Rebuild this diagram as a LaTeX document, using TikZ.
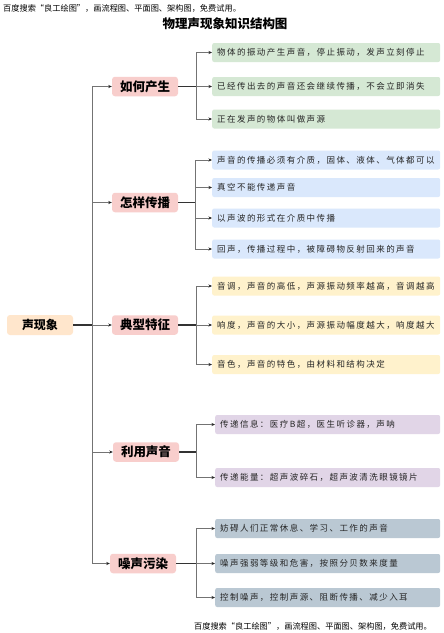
\documentclass[tikz,border=0pt]{standalone}
\usepackage{fontspec}
\newfontfamily\cjk{Noto Sans CJK SC}
\newfontfamily\cjkleaf{Noto Sans CJK SC}[LetterSpace=17]
\usetikzlibrary{arrows.meta}
\definecolor{rootc}{HTML}{FFE6CC}
\definecolor{midc}{HTML}{F8CECC}
\definecolor{greenc}{HTML}{D5E8D4}
\definecolor{bluec}{HTML}{DAE8FC}
\definecolor{yellowc}{HTML}{FFF2CC}
\definecolor{purplec}{HTML}{E1D5E7}
\definecolor{grayc}{HTML}{BAC8D3}
\tikzset{
  rootbox/.style={fill=rootc, rounded corners=3pt, minimum width=66pt, minimum height=20pt, inner sep=0pt, font=\cjk\bfseries\fontsize{12}{14}\selectfont},
  midbox/.style={fill=midc, rounded corners=3pt, minimum width=66pt, minimum height=19.5pt, inner sep=0pt, font=\cjk\bfseries\fontsize{12.5}{14}\selectfont},
  leaf/.style={fill=#1, rounded corners=2pt, anchor=west, text width=218pt, inner xsep=5pt, inner ysep=0pt, minimum height=19pt, align=left, font=\cjkleaf\fontsize{8.5}{10}\selectfont, text=black!85},
  wmark/.style={font=\cjk\fontsize{8.2}{10}\selectfont},
  stem/.style={draw=black!80, line width=1.1pt},
  branch/.style={draw=black!55, line width=0.6pt, -{Stealth[length=3.5pt,width=3pt,color=black!85]}},
}
\begin{document}
\begin{tikzpicture}[x=1pt,y=-1pt]
\useasboundingbox (0,0) rectangle (444,633);
\fill[white] (0,0) rectangle (444,633);

\node[wmark, anchor=west, inner sep=0pt] (wm1) at (3,8) {百度搜索“良工绘图”，画流程图、平面图、架构图，免费试用。};
\node[font=\cjk\bfseries\fontsize{12.5}{14}\selectfont] (title) at (225,24) {物理声现象知识结构图};
\node[wmark] (wm2) at (313,626) {百度搜索“良工绘图”，画流程图、平面图、架构图，免费试用。};

\node[rootbox] (root) at (40,325) {声现象};

\node[midbox] (c1) at (145,86.5) {如何产生};
\node[midbox] (c2) at (145,202.5) {怎样传播};
\node[midbox] (c3) at (145,325) {典型特征};
\node[midbox] (c4) at (146,452) {利用声音};
\node[midbox] (c5) at (143,563.5) {噪声污染};

\coordinate (trunk) at (92,325);
\draw[stem] (root.east) -- (trunk);
\draw[branch] (trunk) |- (c1.west);
\draw[branch] (trunk) |- (c2.west);
\draw[branch] (trunk) -- (c3.west);
\draw[branch] (trunk) |- (c4.west);
\draw[branch] (trunk) |- (c5.west);

% 如何产生
\node[leaf=greenc] (l11) at (212,52.5) {物体的振动产生声音，停止振动，发声立刻停止};
\node[leaf=greenc] (l12) at (212,86.5) {已经传出去的声音还会继续传播，不会立即消失};
\node[leaf=greenc] (l13) at (212,119) {正在发声的物体叫做声源};
\coordinate (b1) at (196,86.5);
\draw[stem] (c1.east) -- (b1);
\draw[branch] (b1) |- (l11.west);
\draw[branch] (b1) -- (l12.west);
\draw[branch] (b1) |- (l13.west);

% 怎样传播
\node[leaf=bluec] (l21) at (212,160) {声音的传播必须有介质，固体、液体、气体都可以};
\node[leaf=bluec] (l22) at (212,187.5) {真空不能传递声音};
\node[leaf=bluec] (l23) at (212,218) {以声波的形式在介质中传播};
\node[leaf=bluec] (l24) at (212,249) {回声，传播过程中，被障碍物反射回来的声音};
\coordinate (b2) at (195,202.5);
\draw[stem] (c2.east) -- (b2);
\draw[branch] (b2) |- (l21.west);
\draw[branch] (b2) |- (l22.west);
\draw[branch] (b2) |- (l23.west);
\draw[branch] (b2) |- (l24.west);

% 典型特征
\node[leaf=yellowc] (l31) at (212,286) {音调，声音的高低，声源振动频率越高，音调越高};
\node[leaf=yellowc] (l32) at (212,325) {响度，声音的大小，声源振动幅度越大，响度越大};
\node[leaf=yellowc] (l33) at (212,364.5) {音色，声音的特色，由材料和结构决定};
\coordinate (b3) at (196,325);
\draw[stem] (c3.east) -- (b3);
\draw[branch] (b3) |- (l31.west);
\draw[branch] (b3) -- (l32.west);
\draw[branch] (b3) |- (l33.west);

% 利用声音
\node[leaf=purplec, text width=215pt] (l41) at (215,424.5) {传递信息：医疗B超，医生听诊器，声呐};
\node[leaf=purplec, text width=215pt] (l42) at (215,477.5) {传递能量：超声波碎石，超声波清洗眼镜镜片};
\coordinate (b4) at (196,452);
\draw[stem] (c4.east) -- (b4);
\draw[branch] (b4) |- (l41.west);
\draw[branch] (b4) |- (l42.west);

% 噪声污染
\node[leaf=grayc, text width=215pt] (l51) at (215,528.5) {妨碍人们正常休息、学习、工作的声音};
\node[leaf=grayc, text width=215pt] (l52) at (215,563.5) {噪声强弱等级和危害，按照分贝数来度量};
\node[leaf=grayc, text width=215pt] (l53) at (215,597.5) {控制噪声，控制声源、阻断传播、减少入耳};
\coordinate (b5) at (196,563.5);
\draw[stem] (c5.east) -- (b5);
\draw[branch] (b5) |- (l51.west);
\draw[branch] (b5) -- (l52.west);
\draw[branch] (b5) |- (l53.west);
\end{tikzpicture}
\end{document}
